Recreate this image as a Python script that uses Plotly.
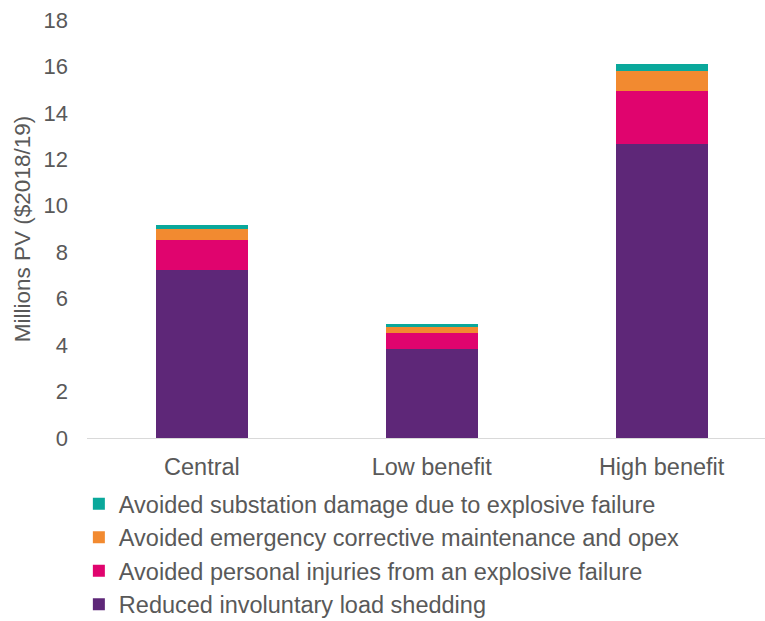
import plotly.graph_objects as go

categories = ["Central", "Low benefit", "High benefit"]
load_shedding = [7.24, 3.83, 12.67]
personal_injuries = [1.29, 0.70, 2.27]
corrective_maint = [0.47, 0.26, 0.88]
substation_damage = [0.17, 0.11, 0.27]

series = [
    ("Reduced involuntary load shedding", load_shedding, "#5E2778"),
    ("Avoided personal injuries from an explosive failure", personal_injuries, "#E0046E"),
    ("Avoided emergency corrective maintenance and opex", corrective_maint, "#F28A30"),
    ("Avoided substation damage due to explosive failure", substation_damage, "#0AA89B"),
]

fig = go.Figure()
for name, vals, color in series:
    fig.add_trace(go.Bar(x=categories, y=vals, name=name, marker_color=color,
                         marker_line_width=0, width=0.4))

font = dict(family="Liberation Sans, Arial, sans-serif", color="#595959")
fig.update_layout(
    barmode="stack",
    width=765, height=621,
    margin=dict(l=87, r=0, t=20, b=183, autoexpand=False),
    paper_bgcolor="white", plot_bgcolor="white",
    font=dict(size=20, **font),
    xaxis=dict(range=[-0.5, 2.45], showgrid=False, showline=True, linecolor="#D9D9D9",
               linewidth=1, ticks="", tickfont=dict(size=23.5, **font), ticklabelstandoff=8),
    yaxis=dict(range=[0, 18], dtick=2, showgrid=False, zeroline=False, showline=False,
               tickfont=dict(size=22, **font), ticklabelstandoff=18,
               title=dict(text="Millions PV ($2018/19)", font=dict(size=22.5, **font), standoff=6)),
    legend=dict(orientation="v", x=-0.012, xanchor="left", y=-0.105, yanchor="top",
                traceorder="reversed", font=dict(size=23.5, **font), tracegroupgap=0,
                itemwidth=30, maxheight=300),
    bargap=0.6,
)
fig.write_html("out.html")
